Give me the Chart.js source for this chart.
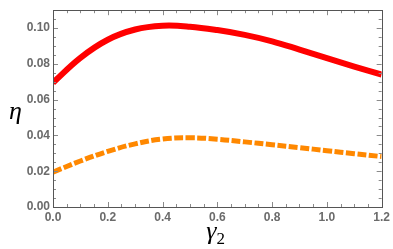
<!DOCTYPE html>
<html>
<head>
<meta charset="utf-8">
<script src="https://cdn.jsdelivr.net/npm/chart.js@4.4.1/dist/chart.umd.min.js"></script>
<style>
	html, body { margin: 0; padding: 0; background: #fff; }
	#wrap { width: 393px; height: 249px; position: relative; }
</style>
</head>
<body>
<div id="wrap"><canvas id="chartCanvas"></canvas></div>
<script>
// gamma_2 values
const gamma2 = [0.0, 0.1, 0.2, 0.3, 0.4, 0.5, 0.6, 0.7, 0.8, 0.9, 1.0, 1.1, 1.2]
// eta, solid red curve
const etaRed = [0.0695, 0.0834, 0.0935, 0.0992, 0.1013, 0.1008, 0.0989, 0.0962, 0.0926, 0.0880, 0.0832, 0.0785, 0.0740]
// eta, dashed orange curve
const etaOrange = [0.0195, 0.0257, 0.0311, 0.0353, 0.0380, 0.0387, 0.0379, 0.0364, 0.0348, 0.0332, 0.0315, 0.0298, 0.0282]

const X_MIN = 0, X_MAX = 1.2, X_STEP = 0.2, X_MINOR = 0.05
const Y_MIN = 0, Y_MAX = 0.11, Y_STEP = 0.02, Y_MINOR = 0.005

function points(xs, ys) {
	return xs.map((x, i) => ({ x: x, y: ys[i] }))
}

// frame + inward ticks on all four sides, and the axis symbols
const framePlugin = {
	id: 'frame',
	afterDraw(chart) {
		const ctx = chart.ctx
		const a = chart.chartArea
		const xs = chart.scales.x, ys = chart.scales.y
		ctx.save()
		ctx.strokeStyle = '#8a8a8a'
		ctx.lineWidth = 1
		// x ticks
		for (let v = X_MIN; v <= X_MAX + 1e-9; v += X_MINOR) {
			const major = Math.abs(v / X_STEP - Math.round(v / X_STEP)) < 1e-6
			const len = major ? 5 : 3
			const px = Math.round(xs.getPixelForValue(v)) + 0.5
			ctx.beginPath()
			ctx.moveTo(px, a.bottom); ctx.lineTo(px, a.bottom - len)
			ctx.moveTo(px, a.top); ctx.lineTo(px, a.top + len)
			ctx.stroke()
		}
		// y ticks
		for (let v = Y_MIN; v <= Y_MAX + 1e-9; v += Y_MINOR) {
			const major = Math.abs(v / Y_STEP - Math.round(v / Y_STEP)) < 1e-6
			const len = major ? 5 : 3
			const py = Math.round(ys.getPixelForValue(v)) + 0.5
			ctx.beginPath()
			ctx.moveTo(a.left, py); ctx.lineTo(a.left + len, py)
			ctx.moveTo(a.right, py); ctx.lineTo(a.right - len, py)
			ctx.stroke()
		}
		ctx.strokeStyle = '#555'
		ctx.strokeRect(Math.round(a.left) + 0.5, Math.round(a.top) + 0.5,
			Math.round(a.right - a.left), Math.round(a.bottom - a.top))

		// axis symbols
		ctx.fillStyle = '#000'
		ctx.textBaseline = 'alphabetic'
		ctx.textAlign = 'left'
		ctx.font = 'italic 26px "Liberation Serif", "DejaVu Serif", serif'
		ctx.fillText('\u03B7', 9, 119)
		const cx = (a.left + a.right) / 2
		const gw = ctx.measureText('\u03B3').width
		ctx.fillText('\u03B3', cx - 11, 239)
		ctx.font = '17px "Liberation Serif", "DejaVu Serif", serif'
		ctx.fillText('2', cx - 11 + gw, 244)
		ctx.restore()
	}
}

const tickFont = { family: '"Liberation Sans", Arial, sans-serif', size: 12, weight: 'bold' }

const config = {
	type: 'line',
	data: {
		datasets: [
			{
				label: 'red',
				data: points(gamma2, etaRed),
				borderColor: '#ff0000',
				borderWidth: 6,
				pointRadius: 0,
				tension: 0.4,
				fill: false
			},
			{
				label: 'orange',
				data: points(gamma2, etaOrange),
				borderColor: 'rgb(255,136,0)',
				borderWidth: 5,
				borderDash: [9, 2.5],
				borderCapStyle: 'butt',
				pointRadius: 0,
				tension: 0.4,
				fill: false
			}
		]
	},
	options: {
		responsive: true,
		maintainAspectRatio: false,
		animation: false,
		layout: { padding: { top: 4, right: 11, left: 0, bottom: 0 } },
		plugins: { legend: { display: false }, tooltip: { enabled: false } },
		scales: {
			x: {
				type: 'linear',
				min: X_MIN, max: X_MAX,
				grid: { display: false, drawTicks: false },
				border: { display: false },
				ticks: {
					stepSize: X_STEP,
					includeBounds: false,
					padding: 3,
					color: '#6b6b6b',
					font: tickFont,
					maxRotation: 0,
					callback: v => v.toFixed(1)
				},
				afterFit(s) { s.height = 42 }
			},
			y: {
				min: Y_MIN, max: Y_MAX,
				grid: { display: false, drawTicks: false },
				border: { display: false },
				ticks: {
					stepSize: Y_STEP,
					includeBounds: false,
					padding: 3,
					color: '#6b6b6b',
					font: tickFont,
					callback: v => v.toFixed(2)
				},
				afterFit(s) { s.width = 53 }
			}
		}
	},
	plugins: [framePlugin]
}

window.onload = function() {
	window.myChart = new Chart(document.getElementById('chartCanvas'), config)
}
</script>
</body>
</html>
